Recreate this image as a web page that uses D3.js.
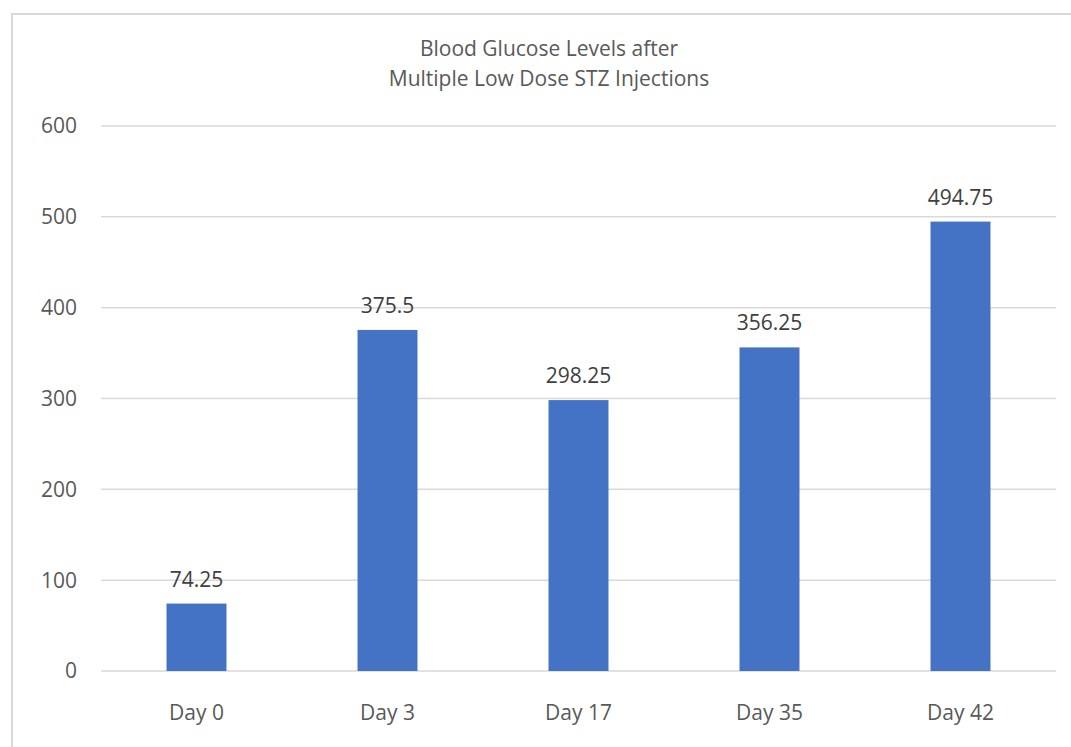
<!DOCTYPE html>
<html>
<head>
<meta charset="utf-8">
<script src="https://cdn.jsdelivr.net/npm/d3@7.9.0/dist/d3.min.js"></script>
<style>
  body { margin: 0; background: #fff; }
  svg text { font-family: "Open Sans", sans-serif; }
</style>
</head>
<body>
<svg id="chart" width="1071" height="747"></svg>
<script>
const days = ['Day 0', 'Day 3', 'Day 17', 'Day 35', 'Day 42'];
const glucose = [74.25, 375.5, 298.25, 356.25, 494.75];
const yTicks = [0, 100, 200, 300, 400, 500, 600];
const titleLines = ['Blood Glucose Levels after', 'Multiple Low Dose STZ Injections'];

const svg = d3.select('#chart');

// chart frame (only left/top edges fall inside the window)
svg.append('rect')
  .attr('x', 12).attr('y', 14)
  .attr('width', 1100).attr('height', 800)
  .attr('fill', 'none')
  .attr('stroke', '#d9d9d9')
  .attr('stroke-width', 2);

const plotLeft = 101, plotRight = 1056, plotTop = 126, plotBottom = 671;

const x = d3.scaleBand().domain(days).range([plotLeft, plotRight]).paddingInner(0.686).paddingOuter(0.343);
const y = d3.scaleLinear().domain([0, 600]).range([plotBottom, plotTop]);

// gridlines
svg.append('g')
  .selectAll('line')
  .data(yTicks)
  .join('line')
  .attr('x1', plotLeft).attr('x2', plotRight)
  .attr('y1', (d) => y(d)).attr('y2', (d) => y(d))
  .attr('stroke', '#d9d9d9')
  .attr('stroke-width', 1.5);

// y tick labels
svg.append('g')
  .selectAll('text')
  .data(yTicks)
  .join('text')
  .attr('x', 77)
  .attr('y', (d) => y(d))
  .attr('dy', '0.35em')
  .attr('text-anchor', 'end')
  .attr('font-size', 21)
  .attr('fill', '#595959')
  .text((d) => d);

// bars
svg.append('g')
  .selectAll('rect')
  .data(glucose)
  .join('rect')
  .attr('x', (d, i) => x(days[i]))
  .attr('width', x.bandwidth())
  .attr('y', (d) => y(d))
  .attr('height', (d) => y(0) - y(d))
  .attr('fill', '#4472c4');

// value labels
svg.append('g')
  .selectAll('text')
  .data(glucose)
  .join('text')
  .attr('x', (d, i) => x(days[i]) + x.bandwidth() / 2)
  .attr('y', (d) => y(d) - 17)
  .attr('text-anchor', 'middle')
  .attr('font-size', 21)
  .attr('fill', '#404040')
  .text((d) => d);

// x labels
svg.append('g')
  .selectAll('text')
  .data(days)
  .join('text')
  .attr('x', (d) => x(d) + x.bandwidth() / 2)
  .attr('y', 720)
  .attr('text-anchor', 'middle')
  .attr('font-size', 21)
  .attr('fill', '#595959')
  .text((d) => d);

// title
svg.append('g')
  .selectAll('text')
  .data(titleLines)
  .join('text')
  .attr('x', 549)
  .attr('y', (d, i) => 56 + i * 30)
  .attr('text-anchor', 'middle')
  .attr('font-size', 21)
  .attr('fill', '#595959')
  .text((d) => d);
</script>
</body>
</html>
